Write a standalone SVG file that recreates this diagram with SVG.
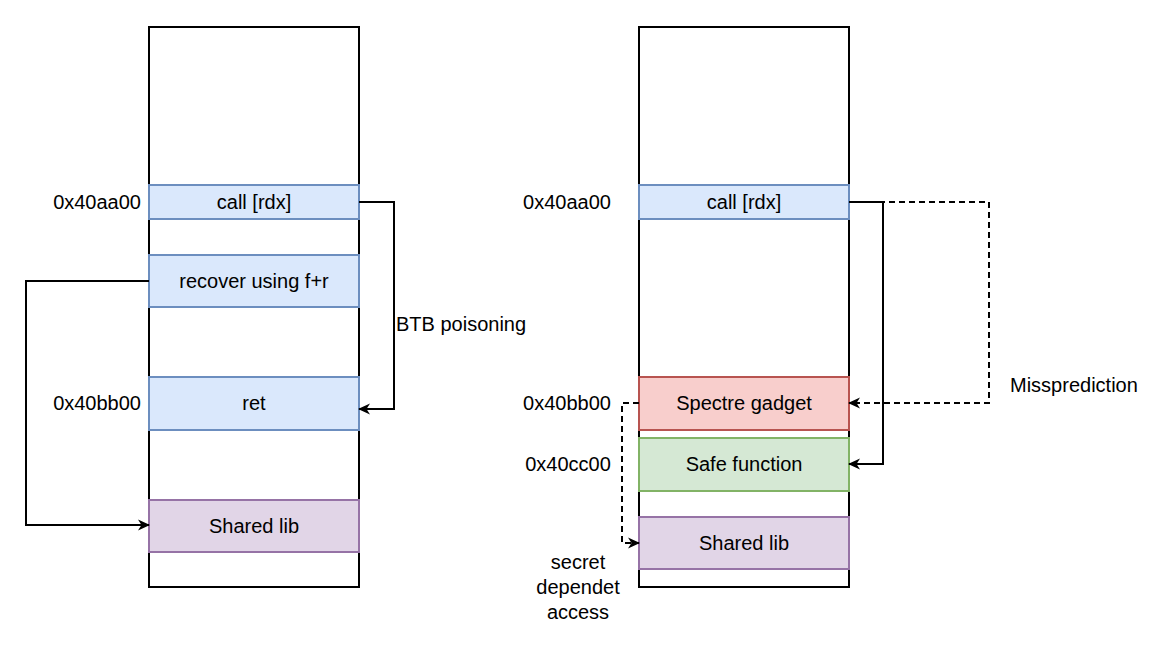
<svg xmlns="http://www.w3.org/2000/svg" width="1150" height="652" viewBox="0 0 1150 652">
<style>
text{font-family:"Liberation Sans",Arial,sans-serif;font-size:20px;fill:#000}
.c{text-anchor:middle}
.r{text-anchor:end}
.outer{fill:#fff;stroke:#000;stroke-width:2}
.blue{fill:#dae8fc;stroke:#6c8ebf;stroke-width:2}
.red{fill:#f8cecc;stroke:#b85450;stroke-width:2}
.green{fill:#d5e8d4;stroke:#82b366;stroke-width:2}
.purple{fill:#e1d5e7;stroke:#9673a6;stroke-width:2}
.ln{fill:none;stroke:#000;stroke-width:2}
.dash{stroke-dasharray:6 4}
</style>
<defs>
<marker id="arr" viewBox="0 0 12 12" refX="11" refY="6" markerWidth="12" markerHeight="12" markerUnits="userSpaceOnUse" orient="auto">
<path d="M0,0.5 L12,6 L0,11.5 L3.5,6 Z" fill="#000"/>
</marker>
</defs>
<g id="left-memory">
<rect class="outer" x="149" y="27" width="210" height="560"/>
</g>
<g id="left-call">
<rect class="blue" x="149" y="185" width="210" height="34"/>
<text class="c" x="254" y="209">call [rdx]</text>
</g>
<g id="left-recover">
<rect class="blue" x="149" y="255" width="210" height="52"/>
<text class="c" x="254" y="288">recover using f+r</text>
</g>
<g id="left-ret">
<rect class="blue" x="149" y="377" width="210" height="53"/>
<text class="c" x="254" y="410">ret</text>
</g>
<g id="left-shared">
<rect class="purple" x="149" y="500" width="210" height="52"/>
<text class="c" x="254" y="533">Shared lib</text>
</g>
<g id="right-memory">
<rect class="outer" x="639" y="27" width="210" height="560"/>
</g>
<g id="right-call">
<rect class="blue" x="639" y="185" width="210" height="34"/>
<text class="c" x="744" y="209">call [rdx]</text>
</g>
<g id="right-spectre">
<rect class="red" x="639" y="377" width="210" height="53"/>
<text class="c" x="744" y="410">Spectre gadget</text>
</g>
<g id="right-safe">
<rect class="green" x="639" y="438" width="210" height="53"/>
<text class="c" x="744" y="471">Safe function</text>
</g>
<g id="right-shared">
<rect class="purple" x="639" y="517" width="210" height="52"/>
<text class="c" x="744" y="550">Shared lib</text>
</g>
<g id="labels">
<text class="r" x="141" y="209">0x40aa00</text>
<text class="r" x="141" y="410">0x40bb00</text>
<text class="c" x="567" y="209">0x40aa00</text>
<text class="c" x="567" y="410">0x40bb00</text>
<text class="c" x="568" y="471">0x40cc00</text>
<text x="396" y="331">BTB poisoning</text>
<text x="1010" y="392">Missprediction</text>
<text class="c" x="578" y="569">secret</text>
<text class="c" x="578" y="594">dependet</text>
<text class="c" x="578" y="619">access</text>
</g>
<g id="connectors">
<path class="ln" d="M359,202 H394 V409 H359" marker-end="url(#arr)"/>
<path class="ln" d="M149,281 H26 V525 H149" marker-end="url(#arr)"/>
<path class="ln" d="M849,202 H883 V464 H849" marker-end="url(#arr)"/>
<path class="ln dash" d="M849,202 H989 V403 H849" marker-end="url(#arr)"/>
<path class="ln dash" d="M639,403 H622 V543 H639" marker-end="url(#arr)"/>
</g>
</svg>
